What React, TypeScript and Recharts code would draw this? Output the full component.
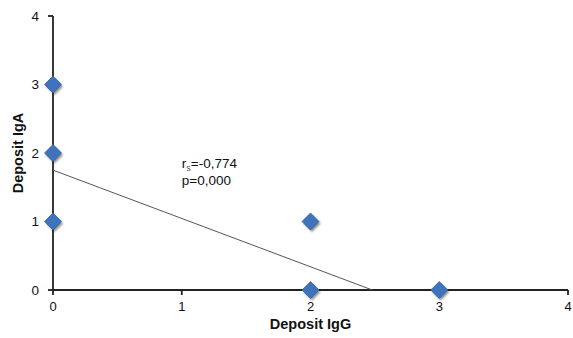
import React from 'react';
import { ScatterChart, Scatter, XAxis, YAxis, ReferenceDot } from 'recharts';

const igG = [0, 0, 0, 2, 2, 3];
const igA = [3, 2, 1, 1, 0, 0];
const trendX = [0, 2.48];
const trendY = [1.75, 0];
const xTicks = [0, 1, 2, 3, 4];
const yTicks = [0, 1, 2, 3, 4];
const rsText = '=-0,774';
const pText = 'p=0,000';

const points = igG.map((x, i) => ({ x, y: igA[i] }));
const trend = trendX.map((x, i) => ({ x, y: trendY[i] }));

const FONT = '"Liberation Sans", Arial, sans-serif';

const Diamond = (props: any) => {
  const { cx, cy } = props;
  if (cx == null || cy == null) return null;
  const h = 8.5;
  return (
    <g>
      <polygon
        points={`${cx + 1.5},${cy - h + 2} ${cx + h + 1.5},${cy + 2} ${cx + 1.5},${cy + h + 2} ${cx - h + 1.5},${cy + 2}`}
        fill="rgba(0,0,0,0.45)"
        filter="url(#blurShadow)"
      />
      <polygon
        points={`${cx},${cy - h} ${cx + h},${cy} ${cx},${cy + h} ${cx - h},${cy}`}
        fill="#3f74bd"
        stroke="#35649f"
        strokeWidth={0.8}
      />
    </g>
  );
};

const Annotation = (props: any) => {
  const { cx, cy } = props;
  return (
    <g style={{ fontFamily: FONT, fontSize: 13.5 }} fill="#111">
      <text x={cx} y={cy + 8}>
        r<tspan fontSize={9} dy={3} fill="#555">s</tspan>
        <tspan dy={-3}>{rsText}</tspan>
      </text>
      <text x={cx} y={cy + 25}>{pText}</text>
    </g>
  );
};

export default function App() {
  return (
    <div style={{ position: 'absolute', left: 0, top: 0, background: '#fff' }}>
      <ScatterChart
        width={573}
        height={338}
        margin={{ top: 16, right: 5, bottom: 0, left: 0 }}
      >
        <defs>
          <filter id="blurShadow" x="-50%" y="-50%" width="200%" height="200%">
            <feGaussianBlur stdDeviation="1.2" />
          </filter>
        </defs>
        <XAxis
          type="number"
          dataKey="x"
          domain={[0, 4]}
          ticks={xTicks}
          height={48}
          tickSize={5}
          tickMargin={7}
          stroke="#222"
          strokeWidth={1.8}
          tick={{ fill: '#111', fontSize: 13, fontFamily: FONT }}
          label={{
            value: 'Deposit IgG',
            position: 'insideBottom',
            offset: 9,
            style: { fontFamily: FONT, fontSize: 14.5, fontWeight: 'bold', fill: '#111' },
          }}
        />
        <YAxis
          type="number"
          dataKey="y"
          domain={[0, 4]}
          ticks={yTicks}
          width={53}
          tickSize={5}
          tickMargin={9}
          stroke="#222"
          strokeWidth={1.8}
          tick={{ fill: '#111', fontSize: 13.5, fontFamily: FONT }}
          label={{
            value: 'Deposit IgA',
            angle: -90,
            position: 'insideLeft',
            offset: 18,
            style: { textAnchor: 'middle', fontFamily: FONT, fontSize: 14.5, fontWeight: 'bold', fill: '#111' },
          }}
        />
        <Scatter
          data={trend}
          line={{ stroke: '#555', strokeWidth: 1 }}
          shape={() => null}
          isAnimationActive={false}
        />
        <Scatter data={points} shape={<Diamond />} isAnimationActive={false} />
        <ReferenceDot x={1} y={1.9} r={0} shape={(p: any) => <Annotation {...p} />} />
      </ScatterChart>
    </div>
  );
}
